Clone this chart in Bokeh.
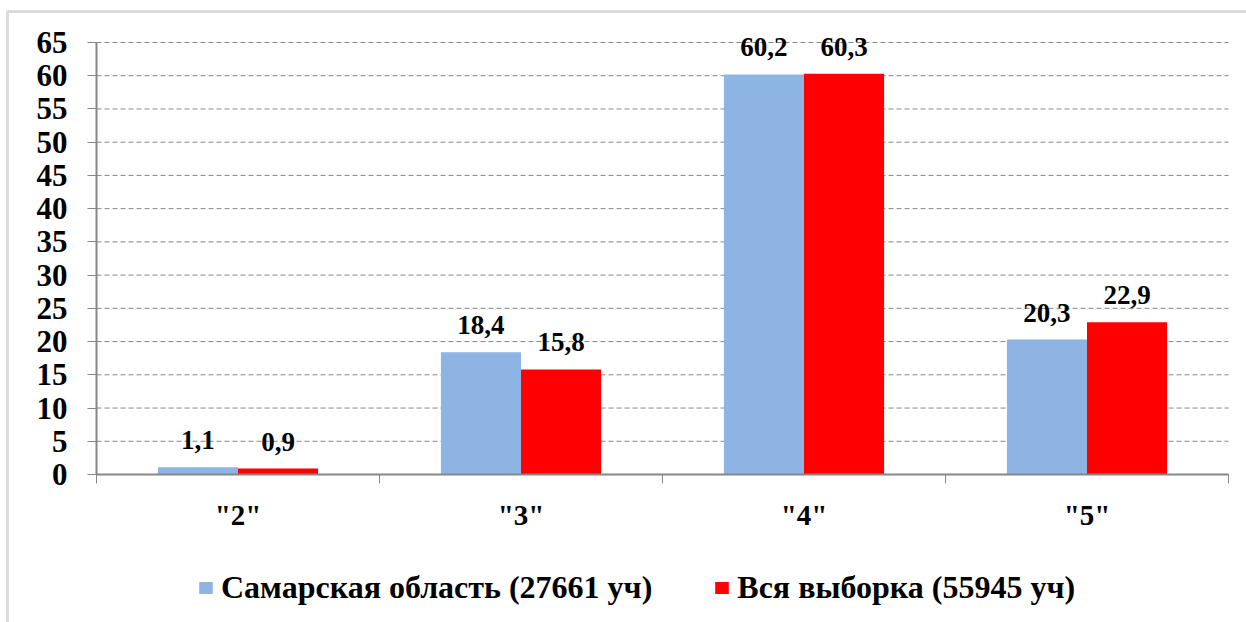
from bokeh.plotting import figure
from bokeh.models import (ColumnDataSource, FixedTicker, Range1d, BoxAnnotation,
                          LabelSet)
from bokeh.transform import dodge
from bokeh.embed import file_html
from bokeh.resources import INLINE

categories = ['"2"', '"3"', '"4"', '"5"']
samara = [1.1, 18.4, 60.2, 20.3]
all_sample = [0.9, 15.8, 60.3, 22.9]
series_names = ["Самарская область (27661 уч)", "Вся выборка (55945 уч)"]
y_ticks = list(range(0, 70, 5))

FONT = "Liberation Serif"
GRAY = "#868686"
BLUE = "#8EB4E3"
RED = "#FF0000"

W, H = 1246, 622
PX_X = 283.0
PX_Y = 432.0 / 65
X0, Y0 = 96, 474
x_start = -X0 / PX_X
x_end = (W - X0) / PX_X
y_end = Y0 / PX_Y
y_start = -(H - Y0) / PX_Y

xc = [i + 0.5 for i in range(len(categories))]
src = ColumnDataSource(dict(
    x=xc, cat=categories, s=samara, a=all_sample,
    s_lbl=[f"{v:.1f}".replace(".", ",") for v in samara],
    a_lbl=[f"{v:.1f}".replace(".", ",") for v in all_sample],
))

p = figure(width=W, height=H, output_backend="svg", toolbar_location=None,
           x_range=Range1d(x_start, x_end), y_range=Range1d(y_start, y_end),
           min_border=0)
p.outline_line_color = None
p.background_fill_color = "white"
p.border_fill_color = "white"

n = len(categories)
p.segment(x0=[0] * len(y_ticks), x1=[n] * len(y_ticks), y0=y_ticks, y1=y_ticks,
          line_color=GRAY, line_dash="5 3", line_width=1)

bw = 0.283
r1 = p.vbar(x=dodge("x", -bw / 2), top="s", width=bw, source=src, fill_color=BLUE,
            line_color=None, legend_label=series_names[0])
r2 = p.vbar(x=dodge("x", bw / 2), top="a", width=bw, source=src, fill_color=RED,
            line_color=None, legend_label=series_names[1])

for col, off in (("s", -bw / 2), ("a", bw / 2)):
    lbl = LabelSet(x=dodge("x", off), y=col, text=col + "_lbl", source=src,
                   text_align="center", text_baseline="alphabetic", y_offset=18,
                   text_font=FONT, text_font_style="bold", text_font_size="27px",
                   text_color="black")
    p.add_layout(lbl)

p.xgrid.grid_line_color = None
p.ygrid.grid_line_color = None

ya = p.yaxis[0]
ya.fixed_location = 0
ya.ticker = FixedTicker(ticks=y_ticks)
ya.bounds = (0, 65)
ya.axis_line_color = GRAY
ya.axis_line_width = 2
ya.major_tick_line_color = GRAY
ya.major_tick_out = 9
ya.major_tick_in = 0
ya.minor_tick_line_color = None
ya.major_label_text_font = FONT
ya.major_label_text_font_style = "bold"
ya.major_label_text_font_size = "31px"
ya.major_label_text_color = "black"
ya.major_label_standoff = 20

xa = p.xaxis[0]
xa.fixed_location = 0
xa.ticker = FixedTicker(ticks=xc, minor_ticks=list(range(n + 1)))
xa.bounds = (0, n)
xa.major_label_overrides = {x: c for x, c in zip(xc, categories)}
xa.axis_line_color = GRAY
xa.axis_line_width = 2
xa.major_tick_line_color = None
xa.major_tick_out = 0
xa.major_tick_in = 0
xa.minor_tick_line_color = GRAY
xa.minor_tick_out = 9
xa.minor_tick_in = 0
xa.major_label_text_font = FONT
xa.major_label_text_font_style = "bold"
xa.major_label_text_font_size = "29px"
xa.major_label_text_color = "black"
xa.major_label_standoff = 15

leg = p.legend[0]
leg.orientation = "horizontal"
leg.location = (197, 16)
leg.padding = 0
leg.margin = 0
leg.spacing = 61
leg.border_line_color = None
leg.background_fill_alpha = 0
leg.glyph_width = 17
leg.glyph_height = 15
leg.label_standoff = 7
leg.label_text_font = FONT
leg.label_text_font_style = "bold"
leg.label_text_font_size = "32px"
leg.label_text_color = "black"

p.add_layout(BoxAnnotation(left=7, top=11, right=3000, bottom=3000,
                           left_units="canvas", right_units="canvas",
                           top_units="canvas", bottom_units="canvas",
                           fill_alpha=0, line_color="#888888", line_width=3))

open("out.html", "w").write(file_html(p, INLINE))
